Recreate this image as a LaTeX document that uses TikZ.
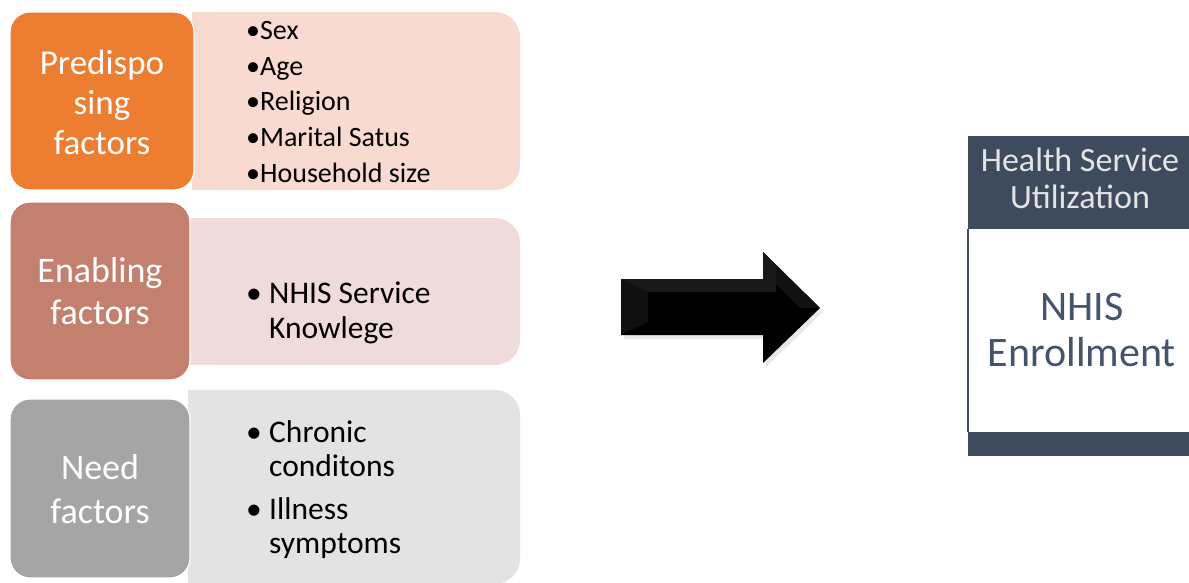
\documentclass[tikz,border=0pt]{standalone}
\usepackage{fontspec}
\setmainfont{Carlito}
\definecolor{orng}{HTML}{ED7D31}
\definecolor{ltone}{HTML}{F8DAD0}
\definecolor{brwn}{HTML}{C4806F}
\definecolor{lttwo}{HTML}{EFDCDA}
\definecolor{gry}{HTML}{A5A5A5}
\definecolor{ltthree}{HTML}{E3E3E3}
\definecolor{navy}{HTML}{3E4B5E}
\definecolor{bodytxt}{HTML}{44546A}
\definecolor{hdrtxt}{HTML}{E4E4E4}
\begin{document}
\begin{tikzpicture}[x=1pt,y=-1pt,
  catbox/.style={draw=white, line width=1.2pt, rounded corners=20pt},
  lbl/.style={text=white, align=center, inner sep=0pt},
  listtxt/.style={anchor=west, align=left, inner sep=0pt, text=black}]
\useasboundingbox (0,0) rectangle (1189,583);
% row 1
\fill[ltone, rounded corners=25pt] (192,12) rectangle (520,190);
\fill[ltone] (192,12) rectangle (260,190);
\filldraw[catbox, fill=orng] (10,12) rectangle (194,190);
\node[lbl, font=\fontsize{35}{40}\selectfont] (pre) at (102,102) {Predispo\\sing\\factors};
\node[listtxt, font=\fontsize{28}{35.7}\selectfont] (l1) at (246,102) {•Sex\\•Age\\•Religion\\•Marital Satus\\•Household size};
% row 2
\fill[lttwo, rounded corners=25pt] (188,218) rectangle (520,365);
\fill[lttwo] (188,218) rectangle (260,365);
\filldraw[catbox, fill=brwn] (10,202) rectangle (190,380);
\node[lbl, font=\fontsize{36}{42}\selectfont] (ena) at (100,291) {Enabling\\factors};
\node[listtxt, font=\fontsize{31.5}{35}\selectfont] (l2) at (246,314) {\begin{tabular}{@{}l@{}l@{}}\makebox[23pt][l]{•} & NHIS Service\\ & Knowlege\end{tabular}};
% row 3
\fill[ltthree, rounded corners=25pt] (188,390) rectangle (520,584);
\fill[ltthree] (188,390) rectangle (260,584);
\filldraw[catbox, fill=gry] (10,399) rectangle (190,578);
\node[lbl, font=\fontsize{36}{44}\selectfont] (need) at (100,489) {Need\\factors};
\node[listtxt, font=\fontsize{31.5}{34.5}\selectfont] (l3) at (246,491) {\begin{tabular}{@{}l@{}l@{}}\makebox[23pt][l]{•} & Chronic\\ & conditons\\[8pt] \makebox[23pt][l]{•} & Illness\\ & symptoms\end{tabular}};
% arrow
\fill[black!15, opacity=0.6] (624,283) -- (766,283) -- (766,256) -- (823,312) -- (766,367) -- (766,339) -- (624,339) -- cycle;
\fill[black] (621,279) -- (763,279) -- (763,252) -- (820,308) -- (763,363) -- (763,335) -- (621,335) -- cycle;
\fill[black!90] (621,279) -- (763,279) -- (763,252) -- (776,265) -- (776,292) -- (648,292) -- cycle;
\fill[black!94] (621,279) -- (648,292) -- (648,322) -- (621,335) -- cycle;
\fill[black!93] (763,252) -- (820,308) -- (800,308) -- (776,284) -- (776,265) -- cycle;
% outcome box
\node[fill=navy, minimum width=221pt, minimum height=93pt, inner sep=0pt] (hdr) at (1078.5,182.5) {};
\node[text=hdrtxt, align=center, inner sep=0pt, font=\fontsize{34}{37}\selectfont] (hdrt) at (1080,178) {Health Service\\Utilization};
\coordinate (btop) at (968,229);
\coordinate (bbot) at (968,432);
\draw[navy, line width=2pt] (btop) -- (bbot);
\node[fill=navy, minimum width=221pt, minimum height=24pt, inner sep=0pt] (bar) at (1078.5,444) {};
\node[text=bodytxt, align=center, inner sep=0pt, font=\fontsize{42}{46}\selectfont] (enr) at (1082,330) {NHIS\\Enrollment};
\end{tikzpicture}
\end{document}
